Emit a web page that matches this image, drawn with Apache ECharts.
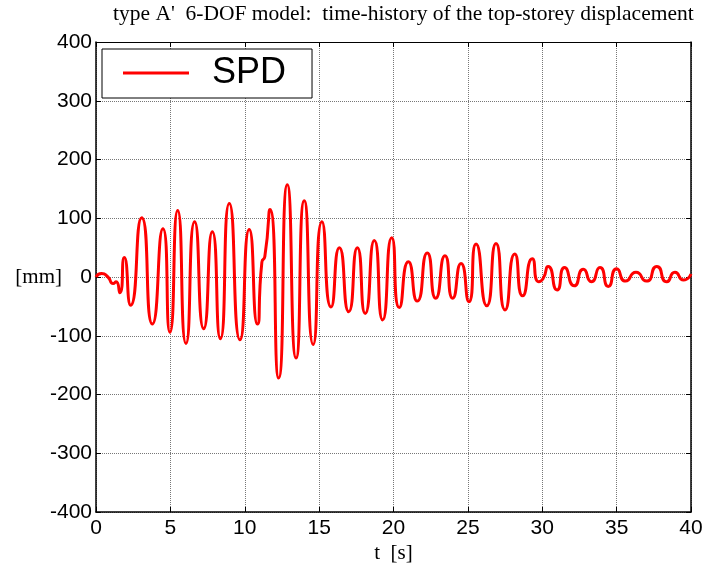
<!DOCTYPE html>
<html>
<head>
<meta charset="utf-8">
<script src="https://cdn.jsdelivr.net/npm/echarts@6/dist/echarts.min.js"></script>
<style>html,body{margin:0;padding:0;background:#fff}#c{width:717px;height:565px}</style>
</head>
<body>
<div id="c"></div>
<script>
// time (s) at extrema of the displacement history
const timeS = [0, 0.38, 0.8, 1.15, 1.35, 1.6, 1.9, 2.33, 3.07, 3.79, 4.5, 4.97, 5.49, 6.05, 6.63, 7.24, 7.82, 8.36, 8.96, 9.68,
  10.3, 10.85, 11.15, 11.35, 11.7, 12.28, 12.86, 13.45, 14.0, 14.6, 15.19, 15.8, 16.36, 16.99, 17.57, 18.1, 18.71, 19.27, 19.88,
  20.39, 21.0, 21.6, 22.27, 22.84, 23.46, 23.98, 24.54, 25.07, 25.55, 26.27, 26.89, 27.5, 28.15, 28.68, 29.33, 29.76,
  30.05, 30.4, 31.0, 31.5, 32.15, 32.76, 33.3, 33.88, 34.44, 35.0, 35.6, 36.3, 37.0, 37.7, 38.37, 38.92, 39.5, 40];
// top-storey displacement (mm)
const dispMM = [0, 6, 0, -11, -8, -27, 33, -48, 101, -80, 82, -94, 113, -113, 94, -88, 77, -105, 125, -107,
  81, -80, 25, 35, 115, -172, 157, -138, 130, -115, 94, -51, 50, -59, 50, -62, 62, -73, 67,
  -52, 26, -41, 41, -36, 36, -36, 23, -42, 56, -49, 57, -56, 39, -32, 31, -8,
  -3, 18, -22, 16, -15, 13, -8, 16, -16, 14, -7, 8, -7, 18, -8, 8, -5, 5];
const xTicks = [0, 5, 10, 15, 20, 25, 30, 35, 40];
const yTicks = [-400, -300, -200, -100, 0, 100, 200, 300, 400];
const seriesName = 'SPD';
const titleText = "type A'  6-DOF model:  time-history of the top-storey displacement";

const data = timeS.map((t, i) => [t, dispMM[i]]);
const sans = 'Liberation Sans, Arial, sans-serif';
const serif = 'Liberation Serif, Times New Roman, serif';

const chart = echarts.init(document.getElementById('c'));
const tickLabel = {color: '#000', fontFamily: sans, fontSize: 21, margin: 4};
chart.setOption({
  animation: false,
  backgroundColor: '#fff',
  title: {text: titleText, left: 113, top: 3, padding: 0,
    textStyle: {fontFamily: serif, fontSize: 21.5, fontWeight: 'normal', color: '#000'}},
  legend: {data: [seriesName], left: 102, top: 49, orient: 'horizontal',
    borderColor: '#000', borderWidth: 1, backgroundColor: '#fff',
    padding: [6, 26, 7, 21], icon: 'rect', itemWidth: 66, itemHeight: 3,
    textStyle: {fontFamily: sans, fontSize: 36, color: '#000', padding: [2, 0, 0, 18]}},
  grid: {left: 96, top: 42, right: 26, bottom: 53, containLabel: false, outerBoundsMode: 'none'},
  xAxis: [{
    type: 'value', min: 0, max: 40, interval: 5,
    name: 't  [s]', nameLocation: 'middle', nameGap: 31, nameMoveOverlap: false,
    nameTextStyle: {fontFamily: serif, fontSize: 21, color: '#000'},
    axisLine: {show: true, onZero: false, lineStyle: {color: '#000', width: 1.5}},
    axisTick: {show: true, inside: true, length: 5, lineStyle: {color: '#000'}},
    axisLabel: Object.assign({}, tickLabel, {margin: 6}),
    splitLine: {show: true, lineStyle: {color: '#777', type: 'dotted', width: 1}}
  }, {
    type: 'value', min: 0, max: 40, interval: 5, position: 'top',
    axisLine: {show: true, onZero: false, lineStyle: {color: '#000', width: 1}},
    axisTick: {show: true, inside: true, length: 5, lineStyle: {color: '#000'}},
    axisLabel: {show: false}, splitLine: {show: false}
  }],
  yAxis: [{
    type: 'value', min: -400, max: 400, interval: 100,
    name: '[mm]', nameLocation: 'middle', nameRotate: 0, nameGap: 34, nameMoveOverlap: false,
    nameTextStyle: {fontFamily: serif, fontSize: 21, color: '#000', padding: [0, 0, 8, 0]},
    axisLine: {show: true, onZero: false, lineStyle: {color: '#000', width: 1.5}},
    axisTick: {show: true, inside: true, length: 5, lineStyle: {color: '#000'}},
    axisLabel: tickLabel,
    splitLine: {show: true, lineStyle: {color: '#777', type: 'dotted', width: 1}}
  }, {
    type: 'value', min: -400, max: 400, interval: 100, position: 'right',
    axisLine: {show: true, onZero: false, lineStyle: {color: '#000', width: 1.5}},
    axisTick: {show: true, inside: true, length: 5, lineStyle: {color: '#000'}},
    axisLabel: {show: false}, splitLine: {show: false}
  }],
  series: [{
    name: seriesName, type: 'line', data: data, smooth: 0.7, showSymbol: false,
    itemStyle: {color: '#ff0000'},
    lineStyle: {color: '#ff0000', width: 3}
  }]
});
</script>
</body>
</html>
